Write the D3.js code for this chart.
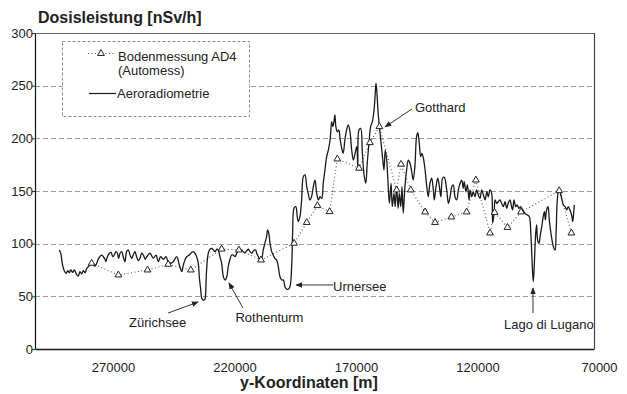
<!DOCTYPE html>
<html><head><meta charset="utf-8">
<script src="https://cdn.jsdelivr.net/npm/d3@7"></script>
<style>
body{margin:0;background:#fff}
svg{display:block}
text{font-family:"Liberation Sans",Arial,Helvetica,sans-serif;fill:#222}
</style>
</head><body>
<svg id="c" width="627" height="394"></svg>
<script>
// ---------------- data ----------------
const yTicks = [0, 50, 100, 150, 200, 250, 300];
const xTicks = [270000, 220000, 170000, 120000, 70000];
const seriesNames = ["Bodenmessung AD4", "(Automess)", "Aeroradiometrie"];

// Bodenmessung AD4 (Automess): [y-Koordinate m, Dosisleistung nSv/h]
const groundSeries = [
  [276700,81.4],[265700,70.3],[253700,75.0],[245200,80.4],[235900,75.0],[223200,94.9],
  [216100,94.0],[207000,84.5],[193400,100.4],[188200,120.1],[183800,136.1],[178800,130.4],
  [175600,180.4],[166700,171.6],[162200,195.9],[158300,211.1],[151200,151.0],[149400,175.4],
  [145400,151.0],[139500,130.1],[135400,120.1],[128700,125.3],[122400,130.1],[118600,160.4],
  [112800,110.1],[110900,129.6],[105600,115.4],[100000,130.1],[84300,150.3],[79300,110.1]
];

// Aeroradiometrie: [y-Koordinate m, Dosisleistung nSv/h]
const aeroSeries = [
  [290000,94.0],[289400,90.9],[288800,81.4],[288100,75.0],[287200,71.9],[286500,74.3],[285900,72.4],
  [285300,75.0],[284500,72.8],[283800,75.0],[282800,70.3],[282200,69.3],[281500,73.4],[280800,71.2],
  [280100,74.3],[279400,72.4],[278700,76.6],[278100,78.1],[277400,79.7],[276700,82.9],[276000,79.7],
  [275300,78.8],[274600,81.4],[274000,85.2],[273300,87.6],[272600,89.2],[271900,87.6],[271200,85.2],
  [270800,82.9],[270300,87.1],[269400,90.9],[268700,91.8],[268000,87.6],[267400,89.2],[266700,92.4],
  [266100,90.9],[265600,86.1],[265000,90.9],[264300,92.4],[263700,87.6],[263000,82.9],[262300,92.4],
  [261600,94.0],[260900,89.2],[260200,86.1],[259600,89.2],[258900,92.4],[258200,87.6],[257500,83.8],
  [256800,86.1],[256100,90.9],[255400,89.2],[254700,85.2],
  [254000,87.6],[252700,90.9],[251300,86.1],[250200,89.2],[249300,82.9],[248300,87.6],[247200,85.2],
  [246100,87.6],[245200,82.9],[244200,81.4],[243100,82.9],[241700,87.6],[240600,79.7],[239600,73.4],
  [239000,79.7],[238300,84.5],[237600,87.6],[236500,89.2],[235500,91.8],[234900,92.4],[234200,90.9],
  [233500,87.6],[232800,81.4],[232400,68.6],[231800,56.0],[231400,48.1],[230800,46.5],[230100,47.2],
  [229800,52.9],[229400,75.0],[228700,90.9],[228000,94.7],[227300,95.6],[226600,94.0],[225900,92.4],
  [225200,94.7],[224600,94.0],[223900,87.6],[223200,81.4],[222500,68.6],[221800,65.5],[221100,68.6],
  [220500,78.1],[219800,85.2],[219100,89.2],[218400,89.2],[217700,87.6],[217000,90.9],[216400,94.0],
  [215700,94.9],[215000,94.0],[214300,92.4],[213600,91.4],[212900,93.3],[212200,94.7],[211500,92.4],
  [210800,90.9],[210200,93.0],[209200,94.0],[208800,90.9],[208100,87.6],[207400,84.5],[206700,86.1],
  [206100,94.0],[205400,100.4],[204700,106.6],[204300,113.0],[203800,109.8],[203300,100.4],[202600,92.4],
  [202000,89.2],[201300,86.1],[200600,84.5],[199900,78.1],[199200,68.6],[198500,65.5],[197800,65.5],
  [197100,58.6],[196400,56.7],[195800,56.7],[195100,59.1],[194400,78.1],[194000,110.1],[193400,133.9],
  [192700,135.1],[192100,125.6],[191700,120.9],[191000,125.6],[190300,141.5],[189600,163.6],[188900,165.2],
  [188200,154.1],[187600,147.8],[186900,141.5],[186200,144.6],[185500,154.1],[184800,160.4],[184100,147.8],
  [183400,141.5],[182700,144.6],[182000,143.1],[181400,157.3],[180700,169.9],[180000,182.6],[179300,188.9],
  [178600,198.4],[177900,215.8],[177500,211.1],[177000,215.8],[176600,222.2],[176200,211.1],[175600,206.3],
  [175000,207.9],[174500,200.0],[173800,190.5],[173200,185.8],[172500,198.4],[171800,207.9],[171100,212.7],
  [170400,206.3],[169700,188.9],[169000,179.4],[168300,185.8],[167600,192.1],[167200,173.1],[166700,207.9],
  [166000,209.5],[165300,185.8],[164600,165.2],[163900,157.3],[163300,176.3],[162600,195.3],[161900,211.1],
  [161200,215.8],[160500,226.9],[160000,242.8],[159700,252.3],[159300,242.8],[158900,226.9],[158300,211.1],
  [157600,195.3],[156900,179.4],[156400,169.9],[155900,188.9],[155300,179.4],[154800,160.4],[154200,138.3],
  [153500,157.3],[153000,135.1],[152300,147.8],[151800,135.1],[151200,154.1],[150600,133.6],[150100,147.8],
  [149500,135.1],[149000,154.1],[148500,128.8],[147800,154.1],[147100,169.9],[146400,179.4],[145700,176.3],
  [145000,168.3],[144400,160.4],[143700,173.1],[143000,201.6],[142500,205.4],[141900,195.3],[141300,182.6],
  [140800,185.8],[140200,181.1],[139500,169.9],[138800,154.1],[138200,144.6],[137500,157.3],[136800,162.1],
  [136100,151.0],[135700,141.5],[135000,154.1],[134300,162.1],[133700,155.7],[133000,144.6],[132300,162.1],
  [131600,163.0],[130600,151.0],[129900,138.3],[129200,144.6],[128500,154.1],[127900,155.7],[127200,144.6],
  [126500,141.5],[125800,151.0],[125100,157.3],[124400,160.4],[123800,152.6],[123400,158.8],[122700,149.3],
  [122100,155.7],[121400,141.5],[121000,151.0],[120300,144.6],[119700,149.3],[119000,144.6],[118300,151.0],
  [117600,146.2],[116900,143.1],[116200,151.0],[115500,146.2],[114800,141.5],[114100,149.3],[113500,144.6],
  [112800,151.0],[112100,147.8],[111700,119.3],[111100,128.8],[110700,141.5],[110000,138.3],[109400,139.8],
  [108700,141.5],[108000,138.3],[107300,135.1],[106600,139.8],[105900,133.6],[105300,138.3],[104600,141.5],
  [103900,135.1],[103500,132.0],[102900,141.5],[102200,135.1],[101600,136.7],[100900,133.6],[100200,135.1],
  [99300,132.0],[98400,128.8],[97400,127.2],[96600,125.6],[96000,109.8],[95500,84.5],[95000,63.9],
  [94600,78.1],[94000,109.8],[93600,117.7],[93200,103.5],[92600,100.4],[92200,106.6],[91500,116.1],
  [90900,125.6],[90400,130.4],[90000,122.5],[89500,132.0],[88900,135.1],[88400,122.5],[87700,109.8],
  [86700,97.1],[86000,94.0],[85600,109.8],[85100,141.5],[84500,151.0],[84000,149.3],[83300,143.1],
  [82600,136.7],[81900,135.1],[81200,132.0],[80600,135.1],[79900,132.0],[79200,127.2],[78800,120.9],
  [78500,125.6],[78100,136.7]
];

// annotations: label and the data point the arrow points at
const annoLabels = ["Gotthard", "Zürichsee", "Rothenturm", "Urnersee", "Lago di Lugano"];
const annoX = [156000, 232900, 220200, 192600, 95100];
const annoDose = [210.8, 44.6, 62.7, 60.8, 57.9];

// ---------------- layout ----------------
const M = {l: 35, r: 594, t: 33, b: 349};
const annoLayout = [
  {tail: [27, -18], text: [30, -15], anchor: "start"},
  {tail: [-30, 11], text: [-40.5, 25], anchor: "middle"},
  {tail: [14, 25], text: [40.5, 39], anchor: "middle"},
  {tail: [37, 0], text: [37, 6], anchor: "start"},
  {tail: [0, 25], text: [-29, 41], anchor: "start"}
];
const FONT = '"Liberation Sans", Arial, Helvetica, sans-serif';

const x = d3.scaleLinear().domain([300000, 70000]).range([M.l, M.r]);
const y = d3.scaleLinear().domain([0, 300]).range([M.b, M.t]);
const svg = d3.select("#c");

svg.append("defs").append("marker")
  .attr("id", "ah").attr("viewBox", "0 0 10 10").attr("refX", 9).attr("refY", 5)
  .attr("markerWidth", 7).attr("markerHeight", 7).attr("markerUnits", "userSpaceOnUse")
  .attr("orient", "auto")
  .append("path").attr("d", "M0,1 L10,5 L0,9 Z").attr("fill", "#222");

// gridlines
svg.append("g").selectAll("line")
  .data(yTicks.filter(v => v > 0 && v < 300)).join("line")
  .attr("x1", M.l).attr("x2", M.r)
  .attr("y1", d => Math.round(y(d)) + 0.5).attr("y2", d => Math.round(y(d)) + 0.5)
  .attr("stroke", "#9c9c9c").attr("stroke-width", 1).attr("stroke-dasharray", "5,3");

// top border
svg.append("line").attr("x1", M.l).attr("x2", M.r)
  .attr("y1", y(300) + 0.5).attr("y2", y(300) + 0.5)
  .attr("stroke", "#6a6a6a").attr("stroke-width", 1.2);

// y axis
const ya = svg.append("g").attr("transform", `translate(${M.l},0)`)
  .call(d3.axisLeft(y).tickValues(yTicks).tickSizeInner(3).tickSizeOuter(0).tickPadding(-1)
    .tickFormat(d3.format("d")));
ya.attr("font-size", 13).attr("font-family", FONT);
ya.select(".domain").attr("stroke", "#111").attr("stroke-width", 1.2);
ya.selectAll(".tick line").attr("stroke", "#333");
ya.selectAll(".tick text").attr("fill", "#222");

// x axis
const xa = svg.append("g").attr("transform", `translate(0,${M.b})`)
  .call(d3.axisBottom(x).tickValues(xTicks).tickSizeInner(0).tickSizeOuter(0).tickPadding(14)
    .tickFormat(d3.format("d")));
xa.attr("font-size", 13).attr("font-family", FONT);
xa.select(".domain").attr("stroke", "#1a1a1a").attr("stroke-width", 1.6);
xa.selectAll(".tick text").attr("fill", "#222").attr("dx", 5);

// ground measurements (dotted + triangles)
const gLine = d3.line().x(d => x(d[0])).y(d => y(d[1]));
svg.append("path").datum(groundSeries).attr("d", gLine)
  .attr("fill", "none").attr("stroke", "#555").attr("stroke-width", 1.1)
  .attr("stroke-dasharray", "1,2.5");

// aeroradiometry line
const aLine = d3.line().x(d => x(d[0])).y(d => y(d[1])).curve(d3.curveCatmullRom.alpha(0.5));
svg.append("path").datum(aeroSeries).attr("d", aLine)
  .attr("fill", "none").attr("stroke", "#1a1a1a").attr("stroke-width", 1.3)
  .attr("stroke-linejoin", "round");

const tri = d3.symbol(d3.symbolTriangle, 20);
svg.append("g").selectAll("path").data(groundSeries).join("path")
  .attr("d", tri)
  .attr("transform", d => `translate(${x(d[0])},${y(d[1])})`)
  .attr("fill", "#fff").attr("stroke", "#222").attr("stroke-width", 1);

// annotations
annoLabels.forEach((lab, i) => {
  const px = x(annoX[i]), py = y(annoDose[i]);
  const L = annoLayout[i];
  svg.append("line")
    .attr("x1", px + L.tail[0]).attr("y1", py + L.tail[1])
    .attr("x2", px).attr("y2", py)
    .attr("stroke", "#333").attr("stroke-width", 1).attr("marker-end", "url(#ah)");
  svg.append("text").attr("x", px + L.text[0]).attr("y", py + L.text[1])
    .attr("text-anchor", L.anchor).attr("font-size", 13).text(lab);
});

// legend
const lg = svg.append("g");
lg.append("rect").attr("x", 62.5).attr("y", 41.5).attr("width", 187).attr("height", 75)
  .attr("fill", "#fff").attr("stroke", "#8a8a8a").attr("stroke-dasharray", "3,2");
lg.append("line").attr("x1", 88).attr("x2", 116).attr("y1", 53.5).attr("y2", 53.5)
  .attr("stroke", "#555").attr("stroke-width", 1.1).attr("stroke-dasharray", "1,2.5");
lg.append("path").attr("d", tri).attr("transform", "translate(101,53.5)")
  .attr("fill", "#fff").attr("stroke", "#222");
lg.append("text").attr("x", 118).attr("y", 61).attr("font-size", 13).text(seriesNames[0]);
lg.append("text").attr("x", 118).attr("y", 75).attr("font-size", 13).text(seriesNames[1]);
lg.append("line").attr("x1", 89).attr("x2", 116).attr("y1", 93.5).attr("y2", 93.5)
  .attr("stroke", "#1a1a1a").attr("stroke-width", 1.2);
lg.append("text").attr("x", 117).attr("y", 98).attr("font-size", 13).text(seriesNames[2]);

// right border
svg.append("line").attr("x1", M.r + 0.5).attr("x2", M.r + 0.5).attr("y1", M.t).attr("y2", M.b)
  .attr("stroke", "#444").attr("stroke-width", 1.2);

// titles
svg.append("text").attr("x", 38).attr("y", 23).attr("font-size", 16).attr("font-weight", "bold")
  .text("Dosisleistung [nSv/h]");
svg.append("text").attr("x", 309).attr("y", 388).attr("text-anchor", "middle")
  .attr("font-size", 16).attr("font-weight", "bold").text("y-Koordinaten [m]");
</script>
</body></html>
